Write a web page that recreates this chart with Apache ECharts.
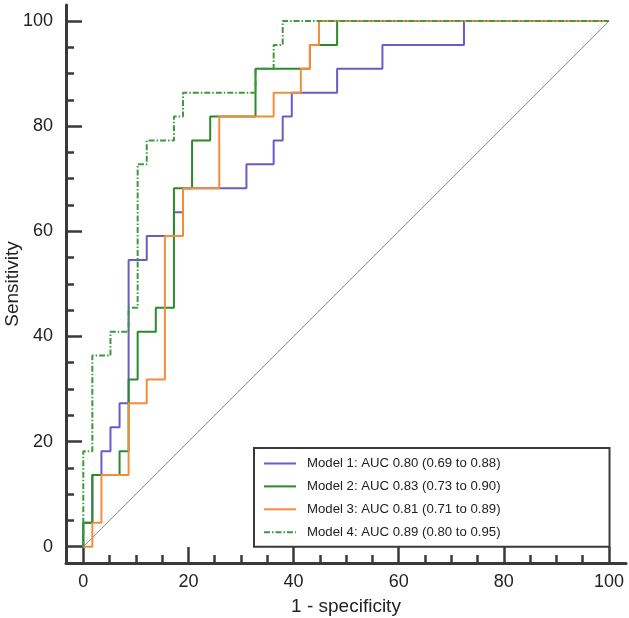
<!DOCTYPE html>
<html>
<head>
<meta charset="utf-8">
<script src="https://cdn.jsdelivr.net/npm/echarts@6/dist/echarts.min.js"></script>
<style>
html,body{margin:0;padding:0;background:#fff;}
#chart{width:629px;height:618px;}
</style>
</head>
<body>
<div id="chart"></div>
<script>
// ROC operating points (1 - specificity %, sensitivity %)
const model1Fpr = [0, 0, 1.72, 3.45, 5.17, 6.90, 8.62, 12.07, 17.24, 18.97, 31.03, 36.21, 37.93, 39.66, 48.28, 56.90, 72.41, 100];
const model1Tpr = [0, 4.55, 13.64, 18.18, 22.73, 27.27, 54.55, 59.09, 63.64, 68.18, 72.73, 77.27, 81.82, 86.36, 90.91, 95.45, 100, 100];

const model2Fpr = [0, 0, 1.72, 6.90, 8.62, 10.34, 13.79, 17.24, 20.69, 24.14, 32.76, 43.10, 48.28, 100];
const model2Tpr = [0, 4.55, 13.64, 18.18, 31.82, 40.91, 45.45, 68.18, 77.27, 81.82, 90.91, 95.45, 100, 100];

const model3Fpr = [0, 1.72, 3.45, 8.62, 12.07, 15.52, 18.97, 25.86, 36.21, 41.38, 43.10, 44.83, 100];
const model3Tpr = [0, 4.55, 13.64, 27.27, 31.82, 59.09, 68.18, 81.82, 86.36, 90.91, 95.45, 100, 100];

const model4Fpr = [0, 0, 1.72, 5.17, 8.62, 10.34, 12.07, 17.24, 18.97, 32.76, 36.21, 37.93, 100];
const model4Tpr = [0, 18.18, 36.36, 40.91, 45.45, 72.73, 77.27, 81.82, 86.36, 90.91, 95.45, 100, 100];

const refLineX = [0, 100];
const refLineY = [0, 100];

const seriesNames = [
  'Model 1: AUC 0.80 (0.69 to 0.88)',
  'Model 2: AUC 0.83 (0.73 to 0.90)',
  'Model 3: AUC 0.81 (0.71 to 0.89)',
  'Model 4: AUC 0.89 (0.80 to 0.95)'
];

const majorTicks = [0, 20, 40, 60, 80, 100];
const minorTicks = [0, 5, 10, 15, 20, 25, 30, 35, 40, 45, 50, 55, 60, 65, 70, 75, 80, 85, 90, 95, 100];

function pairs(xs, ys) { return xs.map((x, i) => [x, ys[i]]); }

const FONT = '"Liberation Sans", Arial, Helvetica, sans-serif';
const AX = '#3a3a3a';

const xMin = -3.29, xMax = 103.23;
const yMin = -3.10, yMax = 103.04;

function xAxisMajor() {
  return {
    type: 'value', min: xMin, max: xMax, position: 'bottom',
    axisLine: { show: true, onZero: false, lineStyle: { color: AX, width: 3 } },
    axisTick: { show: true, inside: true, length: 16, customValues: majorTicks, lineStyle: { color: AX, width: 2.5 } },
    axisLabel: { show: true, customValues: majorTicks, fontSize: 18, color: '#222', fontFamily: FONT, margin: 10 },
    splitLine: { show: false },
    name: '1 - specificity', nameLocation: 'middle', nameGap: 34, nameMoveOverlap: false,
    nameTextStyle: { fontSize: 19, color: '#222', fontFamily: FONT }
  };
}
function xAxisMinor() {
  return {
    type: 'value', min: xMin, max: xMax, position: 'bottom',
    axisLine: { show: false, onZero: false },
    axisTick: { show: true, inside: true, length: 8, customValues: minorTicks, lineStyle: { color: AX, width: 2.5 } },
    axisLabel: { show: false },
    splitLine: { show: false }
  };
}
function yAxisMajor() {
  return {
    type: 'value', min: yMin, max: yMax, position: 'left',
    axisLine: { show: true, onZero: false, lineStyle: { color: AX, width: 3 } },
    axisTick: { show: true, inside: true, length: 16, customValues: majorTicks, lineStyle: { color: AX, width: 2.5 } },
    axisLabel: { show: true, customValues: majorTicks, fontSize: 18, color: '#222', fontFamily: FONT, margin: 13 },
    splitLine: { show: false },
    name: 'Sensitivity', nameLocation: 'middle', nameGap: 44, nameMoveOverlap: false,
    nameTextStyle: { fontSize: 19, color: '#222', fontFamily: FONT }
  };
}
function yAxisMinor() {
  return {
    type: 'value', min: yMin, max: yMax, position: 'left',
    axisLine: { show: false, onZero: false },
    axisTick: { show: true, inside: true, length: 8, customValues: minorTicks, lineStyle: { color: AX, width: 2.5 } },
    axisLabel: { show: false },
    splitLine: { show: false }
  };
}

function rocSeries(name, xs, ys, color, type, z) {
  return {
    name: name, type: 'line', step: 'end', data: pairs(xs, ys),
    xAxisIndex: 0, yAxisIndex: 0,
    symbol: 'none', showSymbol: false,
    lineStyle: { color: color, width: 2, type: type },
    itemStyle: { color: color },
    z: z, silent: true
  };
}

const chart = echarts.init(document.getElementById('chart'), null, { renderer: 'canvas' });
chart.setOption({
  animation: false,
  backgroundColor: '#fff',
  grid: { left: 66, right: 3, top: 5, bottom: 55, containLabel: false, outerBoundsMode: 'none' },
  xAxis: [xAxisMajor(), xAxisMinor()],
  yAxis: [yAxisMajor(), yAxisMinor()],
  legend: {
    data: seriesNames,
    orient: 'vertical',
    left: 254, top: 448,
    padding: [9, 109, 8, 9],
    itemWidth: 32, itemHeight: 14, itemGap: 9.9,
    borderColor: AX, borderWidth: 2,
    backgroundColor: '#fff',
    selectedMode: false,
    itemStyle: { opacity: 0 },
    textStyle: { fontSize: 13.2, color: '#222', fontFamily: FONT, width: 200, padding: [0, 0, 0, 6] }
  },
  series: [
    {
      name: 'ref', type: 'line', data: pairs(refLineX, refLineY),
      symbol: 'none', lineStyle: { color: '#8c8c8c', width: 1 }, z: 1, silent: true
    },
    rocSeries(seriesNames[0], model1Fpr, model1Tpr, '#6a5cc8', 'solid', 2),
    rocSeries(seriesNames[1], model2Fpr, model2Tpr, '#2b8a2b', 'solid', 3),
    rocSeries(seriesNames[2], model3Fpr, model3Tpr, '#f58c3c', 'solid', 4),
    rocSeries(seriesNames[3], model4Fpr, model4Tpr, '#3d9a3d', [6, 2, 1.5, 2], 5)
  ]
});
</script>
</body>
</html>
